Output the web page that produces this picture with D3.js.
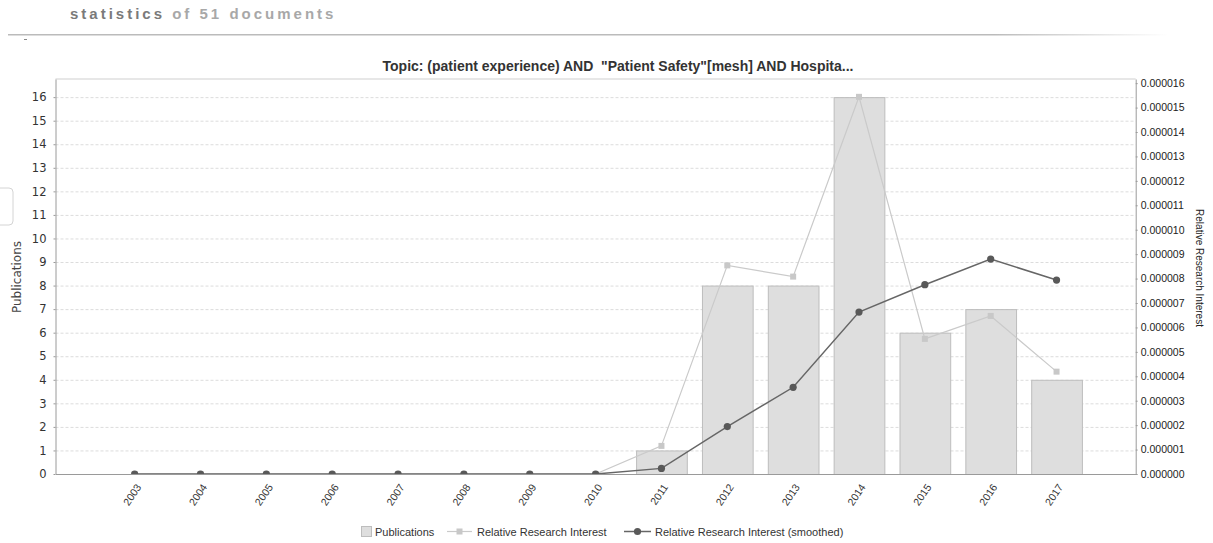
<!DOCTYPE html>
<html>
<head>
<meta charset="utf-8">
<title>statistics of 51 documents</title>
<script src="https://d3js.org/d3.v7.min.js"></script>
<style>
  body { margin: 0; background: #fff; font-family: "Liberation Sans", Arial, sans-serif; }
  .header { font-weight: bold; font-size: 15px; letter-spacing: 3px; }
</style>
</head>
<body>
<svg id="chart" width="1213" height="543"></svg>
<script>
// chart data
const years = ["2003", "2004", "2005", "2006", "2007", "2008", "2009", "2010",
               "2011", "2012", "2013", "2014", "2015", "2016", "2017"];
const publications = [0, 0, 0, 0, 0, 0, 0, 0, 1, 8, 8, 16, 6, 7, 4];
const interest = [0, 0, 0, 0, 0, 0, 0, 0,
                  1.15e-6, 8.54e-6, 8.08e-6, 15.44e-6, 5.53e-6, 6.47e-6, 4.19e-6];
const interestSmoothed = [0, 0, 0, 0, 0, 0, 0, 0,
                          0.23e-6, 1.94e-6, 3.55e-6, 6.63e-6, 7.75e-6, 8.80e-6, 7.94e-6];
const leftTicks = [0, 1, 2, 3, 4, 5, 6, 7, 8, 9, 10, 11, 12, 13, 14, 15, 16];
const rightTicks = [0, 1e-6, 2e-6, 3e-6, 4e-6, 5e-6, 6e-6, 7e-6, 8e-6,
                    9e-6, 10e-6, 11e-6, 12e-6, 13e-6, 14e-6, 15e-6, 16e-6];
const legendLabels = ["Publications", "Relative Research Interest", "Relative Research Interest (smoothed)"];

const svg = d3.select("#chart");
const plot = { left: 55.5, right: 1135.7, top: 79, bottom: 474 };

// page header
const head = svg.append("text").attr("class", "header").attr("x", 70).attr("y", 19);
head.append("tspan").attr("fill", "#7a7a7a").text("statistics ");
head.append("tspan").attr("fill", "#a8a8a8").text("of 51 documents");

const grad = svg.append("defs").append("linearGradient").attr("id", "hr");
grad.append("stop").attr("offset", "0%").attr("stop-color", "#bbb");
grad.append("stop").attr("offset", "85%").attr("stop-color", "#bbb");
grad.append("stop").attr("offset", "100%").attr("stop-color", "#fff");
svg.append("rect").attr("x", 8).attr("y", 34).attr("width", 1160).attr("height", 1.5)
  .attr("fill", "url(#hr)");
svg.append("line").attr("x1", 24).attr("x2", 27).attr("y1", 39.5).attr("y2", 39.5)
  .attr("stroke", "#888");

// little side tab
svg.append("path").attr("d", "M0,188 H9 Q13,188 13,192 V221 Q13,225 9,225 H0")
  .attr("fill", "none").attr("stroke", "#d4d4d4");

// scales
const x = d3.scaleBand().domain(years).range([plot.left, plot.right])
  .paddingInner(0.23).paddingOuter(0.817);
const yLeft = d3.scaleLinear().domain([0, 16.77]).range([plot.bottom, plot.top]);
const yRight = d3.scaleLinear().domain([0, 1.617e-5]).range([plot.bottom, plot.top]);

// title
svg.append("text").attr("x", 618).attr("y", 71).attr("text-anchor", "middle")
  .attr("font-weight", "bold").attr("font-size", 14).attr("fill", "#333")
  .text('Topic: (patient experience) AND  "Patient Safety"[mesh] AND Hospita...')
  .style("white-space", "pre");

// grid lines
svg.append("g").selectAll("line").data(leftTicks.slice(1)).join("line")
  .attr("x1", plot.left).attr("x2", plot.right)
  .attr("y1", d => yLeft(d) + 0.5).attr("y2", d => yLeft(d) + 0.5)
  .attr("stroke", "#dcdcdc").attr("stroke-dasharray", "3,2");

svg.append("line").attr("x1", plot.left).attr("x2", plot.right)
  .attr("y1", plot.top).attr("y2", plot.top).attr("stroke", "#cfcfcf");

// clip to plot area
svg.append("clipPath").attr("id", "clip").append("rect")
  .attr("x", plot.left).attr("y", plot.top)
  .attr("width", plot.right - plot.left).attr("height", plot.bottom - plot.top);
const area = svg.append("g").attr("clip-path", "url(#clip)");

// bars
area.selectAll("rect.bar").data(publications).join("rect")
  .attr("class", "bar")
  .attr("x", (d, i) => x(years[i]) + 0.5)
  .attr("y", d => yLeft(d) + 0.5)
  .attr("width", x.bandwidth())
  .attr("height", d => yLeft(0) - yLeft(d))
  .attr("fill", "#dedede").attr("stroke", "#bdbdbd");

const cx = i => x(years[i]) + x.bandwidth() / 2;

// relative research interest
area.append("path").datum(interest)
  .attr("d", d3.line().x((d, i) => cx(i)).y(d => yRight(d)))
  .attr("fill", "none").attr("stroke", "#cacaca").attr("stroke-width", 1.2);
area.selectAll("rect.sq").data(interest).join("rect")
  .attr("class", "sq")
  .attr("x", (d, i) => cx(i) - 3).attr("y", d => yRight(d) - 3)
  .attr("width", 6).attr("height", 6).attr("fill", "#c8c8c8");

// smoothed
area.append("path").datum(interestSmoothed)
  .attr("d", d3.line().x((d, i) => cx(i)).y(d => yRight(d)))
  .attr("fill", "none").attr("stroke", "#666").attr("stroke-width", 1.5);
area.selectAll("circle").data(interestSmoothed).join("circle")
  .attr("cx", (d, i) => cx(i)).attr("cy", d => yRight(d))
  .attr("r", 3.6).attr("fill", "#595959");

// axes
function styleAxis(g) {
  g.select(".domain").attr("stroke", "#9a9a9a");
  g.selectAll(".tick line").attr("stroke", "#9a9a9a");
}

svg.append("g").attr("transform", `translate(${plot.left},0)`)
  .call(d3.axisLeft(yLeft).tickValues(leftTicks).tickSize(2).tickSizeOuter(0).tickPadding(7))
  .call(styleAxis)
  .call(g => g.selectAll("text").attr("font-family", "DejaVu Sans").attr("font-size", 11.5).attr("fill", "#333"));

svg.append("g").attr("transform", `translate(${plot.right},0)`)
  .call(d3.axisRight(yRight).tickValues(rightTicks).tickFormat(d3.format(".6f"))
    .tickSize(2).tickSizeOuter(0).tickPadding(3))
  .call(styleAxis)
  .call(g => g.selectAll("text").attr("font-family", "Liberation Sans").attr("font-size", 10.5).attr("fill", "#222"));

svg.append("g").attr("transform", `translate(0,${plot.bottom})`)
  .call(d3.axisBottom(x).tickSize(0).tickSizeOuter(0))
  .call(styleAxis)
  .call(g => g.selectAll("text")
    .attr("font-family", "Liberation Sans").attr("font-size", 10.5).attr("fill", "#333")
    .attr("text-anchor", "end").attr("dy", "0.35em").attr("y", 0)
    .attr("transform", "translate(4,11) rotate(-56)"));

// axis labels
svg.append("text").attr("transform", "translate(21,277) rotate(-90)")
  .attr("text-anchor", "middle").attr("font-family", "DejaVu Sans")
  .attr("font-size", 12).attr("fill", "#444").text("Publications");

svg.append("text").attr("transform", "translate(1196,268) rotate(90)")
  .attr("text-anchor", "middle").attr("font-size", 10).attr("fill", "#222")
  .text("Relative Research Interest");

// legend
const legendX = [361, 447, 624];
const lg = svg.append("g").attr("font-size", 11).attr("fill", "#333");
lg.append("rect").attr("x", legendX[0] + 0.5).attr("y", 526.5).attr("width", 10).attr("height", 10)
  .attr("fill", "#dedede").attr("stroke", "#bdbdbd");
lg.append("line").attr("x1", legendX[1]).attr("x2", legendX[1] + 25).attr("y1", 531.5).attr("y2", 531.5)
  .attr("stroke", "#cacaca").attr("stroke-width", 1.2);
lg.append("rect").attr("x", legendX[1] + 9.5).attr("y", 528.5).attr("width", 6).attr("height", 6)
  .attr("fill", "#c8c8c8");
lg.append("line").attr("x1", legendX[2]).attr("x2", legendX[2] + 27).attr("y1", 531.5).attr("y2", 531.5)
  .attr("stroke", "#666").attr("stroke-width", 1.5);
lg.append("circle").attr("cx", legendX[2] + 13.5).attr("cy", 531.5).attr("r", 3.6).attr("fill", "#595959");
lg.selectAll("text").data(legendLabels).join("text")
  .attr("x", (d, i) => legendX[i] + [14, 30, 31][i])
  .attr("y", 535.5)
  .text(d => d);
</script>
</body>
</html>
